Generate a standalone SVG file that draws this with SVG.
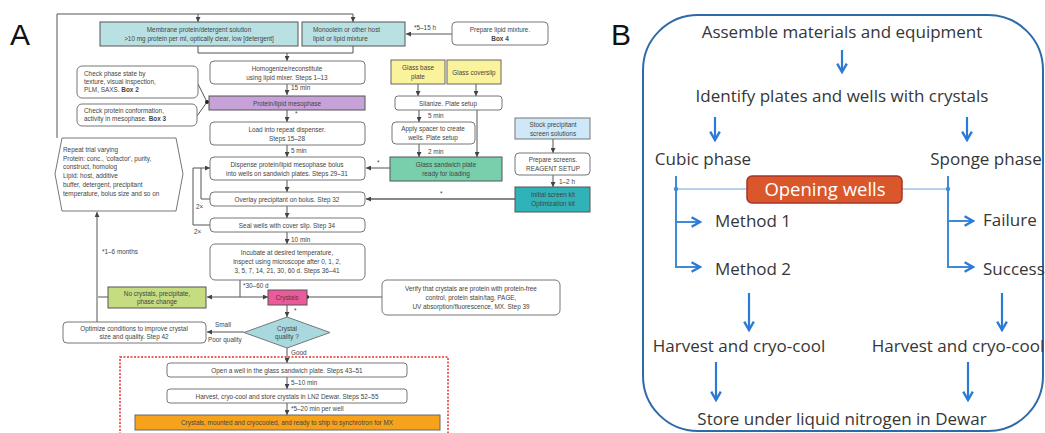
<svg xmlns="http://www.w3.org/2000/svg" width="1045" height="433" viewBox="0 0 1045 433">
<style>
.t{font-family:"Liberation Sans",Arial,sans-serif;font-size:6.4px;fill:#444;text-anchor:middle}
.tl{text-anchor:start}
.b{font-weight:bold}
.bx{fill:#fff;stroke:#777;stroke-width:1}
.c{fill:none;stroke:#555;stroke-width:1}
.teal{fill:#b9e1e4;stroke:#555;stroke-width:1}
.yel{fill:#fbf39b;stroke:#666;stroke-width:1}
.grn{fill:#78cfac;stroke:#555;stroke-width:1}
.big{font-family:"Liberation Sans",Arial,sans-serif;font-size:30px;fill:#111}
.bt{font-family:"Open Sans","Liberation Sans",sans-serif;font-size:17px;fill:#363636;text-anchor:middle}
.ba{fill:none;stroke:#2b7bd6;stroke-width:2.2}
.bl{fill:none;stroke:#3f8ad8;stroke-width:2}
</style>
<defs>
<marker id="ah" viewBox="0 0 6 6" refX="6" refY="3" markerWidth="5" markerHeight="5" markerUnits="userSpaceOnUse" orient="auto"><path d="M0,0 L6,3 L0,6 z" fill="#444"/></marker>
<marker id="bh" viewBox="0 0 10 10" refX="8" refY="5" markerWidth="12" markerHeight="12" markerUnits="userSpaceOnUse" orient="auto"><path d="M1,1 L8,5 L1,9" fill="none" stroke="#2b7bd6" stroke-width="2"/></marker>
</defs>
<rect width="1045" height="433" fill="#fff"/>

<text class="big" x="10" y="45">A</text>
<text class="big" x="611" y="45">B</text>

<!-- Panel A connectors -->
<g id="connectors-a">
<path class="c" d="M57,138 V14 H353 V22" marker-end="url(#ah)"/>
<path class="c" d="M198,14 V22" marker-end="url(#ah)"/>
<path class="c" d="M198,46 V53 H353 V46"/>
<path class="c" d="M287,53 V61" marker-end="url(#ah)"/>
<path class="c" d="M452,34 H406" marker-end="url(#ah)"/>
<path class="c" d="M287,84 V95" marker-end="url(#ah)"/>
<path class="c" d="M198,84 L207,102 M197,116 L207,102"/>
<circle cx="207" cy="102" r="2" fill="#222"/>
<path class="c" d="M287,110 V122" marker-end="url(#ah)"/>
<path class="c" d="M287,145 V157" marker-end="url(#ah)"/>
<path class="c" d="M287,180 V192" marker-end="url(#ah)"/>
<path class="c" d="M287,206 V218" marker-end="url(#ah)"/>
<path class="c" d="M287,232 V244" marker-end="url(#ah)"/>
<path class="c" d="M210,225 H193 V168 H210" marker-end="url(#ah)"/>
<path class="c" d="M210,199 H201 V168"/>
<path class="c" d="M418,84 V96" marker-end="url(#ah)"/>
<path class="c" d="M476,84 V96" marker-end="url(#ah)"/>
<path class="c" d="M419,110 V122" marker-end="url(#ah)"/>
<path class="c" d="M477,110 V157" marker-end="url(#ah)"/>
<path class="c" d="M419,144 V157" marker-end="url(#ah)"/>
<path class="c" d="M390,168 H366" marker-end="url(#ah)"/>
<path class="c" d="M553,139 V153" marker-end="url(#ah)"/>
<path class="c" d="M553,175 V187" marker-end="url(#ah)"/>
<path d="M515,199 H366" fill="none" stroke="#888" stroke-width="2" marker-end="url(#ah)"/>
<path class="c" d="M240,280 V297"/>
<path class="c" d="M240,297 H207" marker-end="url(#ah)"/>
<path class="c" d="M240,297 H268" marker-end="url(#ah)"/>
<path class="c" d="M108,297 H98"/>
<path class="c" d="M97,322 V212" marker-end="url(#ah)"/>
<path class="c" d="M307,297 H382"/>
<circle cx="307" cy="297" r="2" fill="#222"/>
<path class="c" d="M287,305 V317" marker-end="url(#ah)"/>
<path class="c" d="M244,332 H207" marker-end="url(#ah)"/>
<path class="c" d="M287,348 V363" marker-end="url(#ah)"/>
<path class="c" d="M287,377 V389" marker-end="url(#ah)"/>
<path class="c" d="M287,403 V415" marker-end="url(#ah)"/>
<rect x="120" y="357" width="328" height="80" fill="none" stroke="#e53030" stroke-width="1.5" stroke-dasharray="2,1.5"/>
</g>

<!-- connector labels A -->
<g id="labels-a">
<text class="t tl" x="414" y="30">*5–15 h</text>
<text class="t tl" x="291" y="90">15 min</text>
<text class="t tl" x="295" y="116">*</text>
<text class="t tl" x="291" y="153">5 min</text>
<text class="t tl" x="196" y="209">2×</text>
<text class="t tl" x="194" y="234">2×</text>
<text class="t tl" x="291" y="242">10 min</text>
<text class="t tl" x="428" y="118">5 min</text>
<text class="t tl" x="428" y="154">2 min</text>
<text class="t tl" x="377" y="165">*</text>
<text class="t tl" x="559" y="184">1–2 h</text>
<text class="t tl" x="440" y="196">*</text>
<text class="t tl" x="243" y="288">*30–60 d</text>
<text class="t tl" x="102" y="254">*1–6 months</text>
<text class="t tl" x="294" y="313">*</text>
<text class="t tl" x="215" y="327">Small</text>
<text class="t tl" x="208" y="342">Poor quality</text>
<text class="t tl" x="291" y="355">Good</text>
<text class="t tl" x="291" y="385">5–10 min</text>
<text class="t tl" x="291" y="411">*5–20 min per well</text>
</g>

<!-- Panel A nodes -->
<g id="membrane"><rect class="teal" x="100" y="22" width="198" height="24"/><text class="t" x="199" y="32">Membrane protein/detergent solution</text><text class="t" x="199" y="41">&gt;10 mg protein per ml, optically clear, low [detergent]</text></g>
<g id="monoolein"><rect class="teal" x="302" y="22" width="103" height="24"/><text class="t tl" x="313" y="32">Monoolein or other host</text><text class="t tl" x="313" y="41">lipid or lipid mixture</text></g>
<g id="prepare-lipid"><rect class="bx" x="452" y="22" width="96" height="23" rx="4"/><text class="t" x="500" y="32">Prepare lipid mixture.</text><text class="t b" x="500" y="41">Box 4</text></g>
<g id="homogenize"><rect class="bx" x="210" y="61" width="155" height="23" rx="4"/><text class="t" x="287" y="70.5">Homogenize/reconstitute</text><text class="t" x="287" y="79.5">using lipid mixer. Steps 1–13</text></g>
<g id="check-phase"><rect class="bx" x="77" y="66" width="121" height="32" rx="5"/><text class="t tl" x="84" y="76">Check phase state by</text><text class="t tl" x="84" y="84">texture, visual inspection,</text><text class="t tl" x="84" y="92">PLM, SAXS. <tspan class="b">Box 2</tspan></text></g>
<g id="check-protein"><rect class="bx" x="77" y="104" width="120" height="22" rx="5"/><text class="t tl" x="84" y="113">Check protein conformation,</text><text class="t tl" x="84" y="121">activity in mesophase. <tspan class="b">Box 3</tspan></text></g>
<g id="mesophase"><rect x="209" y="96" width="156" height="14" fill="#c7a2d9" stroke="#555"/><text class="t" x="287" y="105.5">Protein/lipid mesophase</text></g>
<g id="load"><rect class="bx" x="210" y="122" width="155" height="23" rx="4"/><text class="t" x="287" y="131.5">Load into repeat dispenser.</text><text class="t" x="287" y="140.5">Steps 15–28</text></g>
<g id="dispense"><rect class="bx" x="210" y="157" width="155" height="23" rx="4"/><text class="t" x="287" y="166.5">Dispense protein/lipid mesophase bolus</text><text class="t" x="287" y="175.5">into wells on sandwich plates. Steps 29–31</text></g>
<g id="overlay"><rect class="bx" x="210" y="192" width="155" height="14" rx="4"/><text class="t" x="287" y="201.5">Overlay precipitant on bolus. Step 32</text></g>
<g id="seal"><rect class="bx" x="210" y="218" width="155" height="14" rx="4"/><text class="t" x="287" y="227.5">Seal wells with cover slip. Step 34</text></g>
<g id="incubate"><rect class="bx" x="210" y="244" width="155" height="36" rx="5"/><text class="t" x="287" y="255">Incubate at desired temperature,</text><text class="t" x="287" y="264">inspect using microscope after 0, 1, 2,</text><text class="t" x="287" y="273">3, 5, 7, 14, 21, 30, 60 d. Steps 36–41</text></g>
<g id="repeat"><polygon points="62,138 176,138 183,174 176,211 62,211 55,174" fill="#fff" stroke="#777"/><text class="t tl" x="63" y="152">Repeat trial varying</text><text class="t tl" x="63" y="160.5">Protein: conc., 'cofactor', purity,</text><text class="t tl" x="63" y="169">construct, homolog</text><text class="t tl" x="63" y="178">Lipid: host, additive</text><text class="t tl" x="63" y="187">buffer, detergent, precipitant</text><text class="t tl" x="63" y="196">temperature, bolus size and so on</text></g>
<g id="glass-base"><rect class="yel" x="391" y="60" width="54" height="24"/><text class="t" x="418" y="70">Glass base</text><text class="t" x="418" y="79">plate</text></g>
<g id="glass-coverslip"><rect class="yel" x="447" y="60" width="54" height="24"/><text class="t" x="474" y="74.5">Glass coverslip</text></g>
<g id="silanize"><rect class="bx" x="395" y="96" width="107" height="14" rx="3"/><text class="t" x="448" y="105.5">Silanize. Plate setup</text></g>
<g id="apply-spacer"><rect class="bx" x="392" y="122" width="83" height="22" rx="4"/><text class="t" x="433" y="131">Apply spacer to create</text><text class="t" x="433" y="140">wells. Plate setup</text></g>
<g id="glass-sandwich"><rect class="grn" x="390" y="157" width="112" height="24"/><text class="t" x="446" y="167">Glass sandwich plate</text><text class="t" x="446" y="176">ready for loading</text></g>
<g id="stock"><rect x="515" y="118" width="75" height="21" fill="#cfe8f8" stroke="#777"/><text class="t" x="553" y="127">Stock precipitant</text><text class="t" x="553" y="135.5">screen solutions</text></g>
<g id="prepare-screens"><rect class="bx" x="515" y="153" width="75" height="22" rx="4"/><text class="t" x="553" y="162">Prepare screens.</text><text class="t" x="553" y="171">REAGENT SETUP</text></g>
<g id="screen-kit"><rect x="515" y="187" width="75" height="25" fill="#2fb3b9" stroke="#555"/><text class="t" x="553" y="197">Initial screen kit</text><text class="t" x="553" y="206">Optimization kit</text></g>
<g id="no-crystals"><rect x="108" y="287" width="98" height="21" fill="#c6dc80" stroke="#555"/><text class="t" x="157" y="295.5">No crystals, precipitate,</text><text class="t" x="157" y="304">phase change</text></g>
<g id="crystals"><rect x="268" y="290" width="39" height="15" fill="#ec5a9c" stroke="#555"/><text class="t" x="287" y="300">Crystals</text></g>
<g id="verify"><rect class="bx" x="382" y="280" width="178" height="35" rx="5"/><text class="t" x="471" y="291">Verify that crystals are protein with protein-free</text><text class="t" x="471" y="300">control, protein stain/tag, PAGE,</text><text class="t" x="471" y="309">UV absorption/fluorescence, MX. Step 39</text></g>
<g id="quality"><polygon points="287,317 330,332.5 287,348 244,332.5" fill="#a9d9df" stroke="#777"/><text class="t" x="287" y="331">Crystal</text><text class="t" x="287" y="339">quality ?</text></g>
<g id="optimize"><rect class="bx" x="63" y="322" width="143" height="21" rx="4"/><text class="t" x="134" y="330.5">Optimize conditions to improve crystal</text><text class="t" x="134" y="339">size and quality. Step 42</text></g>
<g id="open-well"><rect class="bx" x="167" y="363" width="240" height="14" rx="3"/><text class="t" x="287" y="372.5">Open a well in the glass sandwich plate. Steps 43–51</text></g>
<g id="harvest-a"><rect class="bx" x="167" y="389" width="240" height="14" rx="3"/><text class="t" x="287" y="398.5">Harvest, cryo-cool and store crystals in LN2 Dewar. Steps 52–55</text></g>
<g id="ship"><rect x="135" y="415" width="305" height="15" fill="#f7a21c" stroke="#666"/><text class="t" x="287" y="425">Crystals, mounted and cryocooled, and ready to ship to synchrotron for MX</text></g>

<!-- Panel B -->
<g id="frame-b"><rect x="643" y="15" width="400" height="416" rx="55" fill="none" stroke="#2f6aa8" stroke-width="2"/></g>
<g id="connectors-b">
<path class="ba" d="M842,50 V72" marker-end="url(#bh)"/>
<path class="ba" d="M715,117 V140" marker-end="url(#bh)"/>
<path class="ba" d="M967,117 V140" marker-end="url(#bh)"/>
<path d="M676,189 H948" stroke="#9cc3e8" stroke-width="1.5" fill="none"/>
<circle cx="676" cy="189" r="2.2" fill="#3f8ad8"/>
<circle cx="948" cy="189" r="2.2" fill="#3f8ad8"/>
<path class="bl" d="M676,176 V267 H700" marker-end="url(#bh)"/>
<path class="bl" d="M676,222 H700" marker-end="url(#bh)"/>
<path class="bl" d="M948,176 V267 H973" marker-end="url(#bh)"/>
<path class="bl" d="M948,221 H973" marker-end="url(#bh)"/>
<path class="ba" d="M749,293 V330" marker-end="url(#bh)"/>
<path class="ba" d="M1002,293 V330" marker-end="url(#bh)"/>
<path class="ba" d="M716,362 V400" marker-end="url(#bh)"/>
<path class="ba" d="M968,362 V400" marker-end="url(#bh)"/>
</g>
<g id="assemble"><text class="bt" x="842" y="38">Assemble materials and equipment</text></g>
<g id="identify"><text class="bt" x="842" y="102">Identify plates and wells with crystals</text></g>
<g id="cubic"><text class="bt" x="703" y="165">Cubic phase</text></g>
<g id="sponge"><text class="bt" x="986" y="165">Sponge phase</text></g>
<g id="opening"><rect x="747" y="176" width="155" height="27" rx="5" fill="#d9572a" stroke="#a8322a" stroke-width="1.5"/><text class="bt" x="825" y="196" style="fill:#fff;font-size:18.5px">Opening wells</text></g>
<g id="method1"><text class="bt" x="715" y="227" style="text-anchor:start">Method 1</text></g>
<g id="method2"><text class="bt" x="715" y="275" style="text-anchor:start">Method 2</text></g>
<g id="failure"><text class="bt" x="983" y="226" style="text-anchor:start">Failure</text></g>
<g id="success"><text class="bt" x="983" y="275" style="text-anchor:start">Success</text></g>
<g id="harvest-left"><text class="bt" x="739" y="352">Harvest and cryo-cool</text></g>
<g id="harvest-right"><text class="bt" x="958" y="352">Harvest and cryo-cool</text></g>
<g id="store"><text class="bt" x="842" y="425">Store under liquid nitrogen in Dewar</text></g>
</svg>
